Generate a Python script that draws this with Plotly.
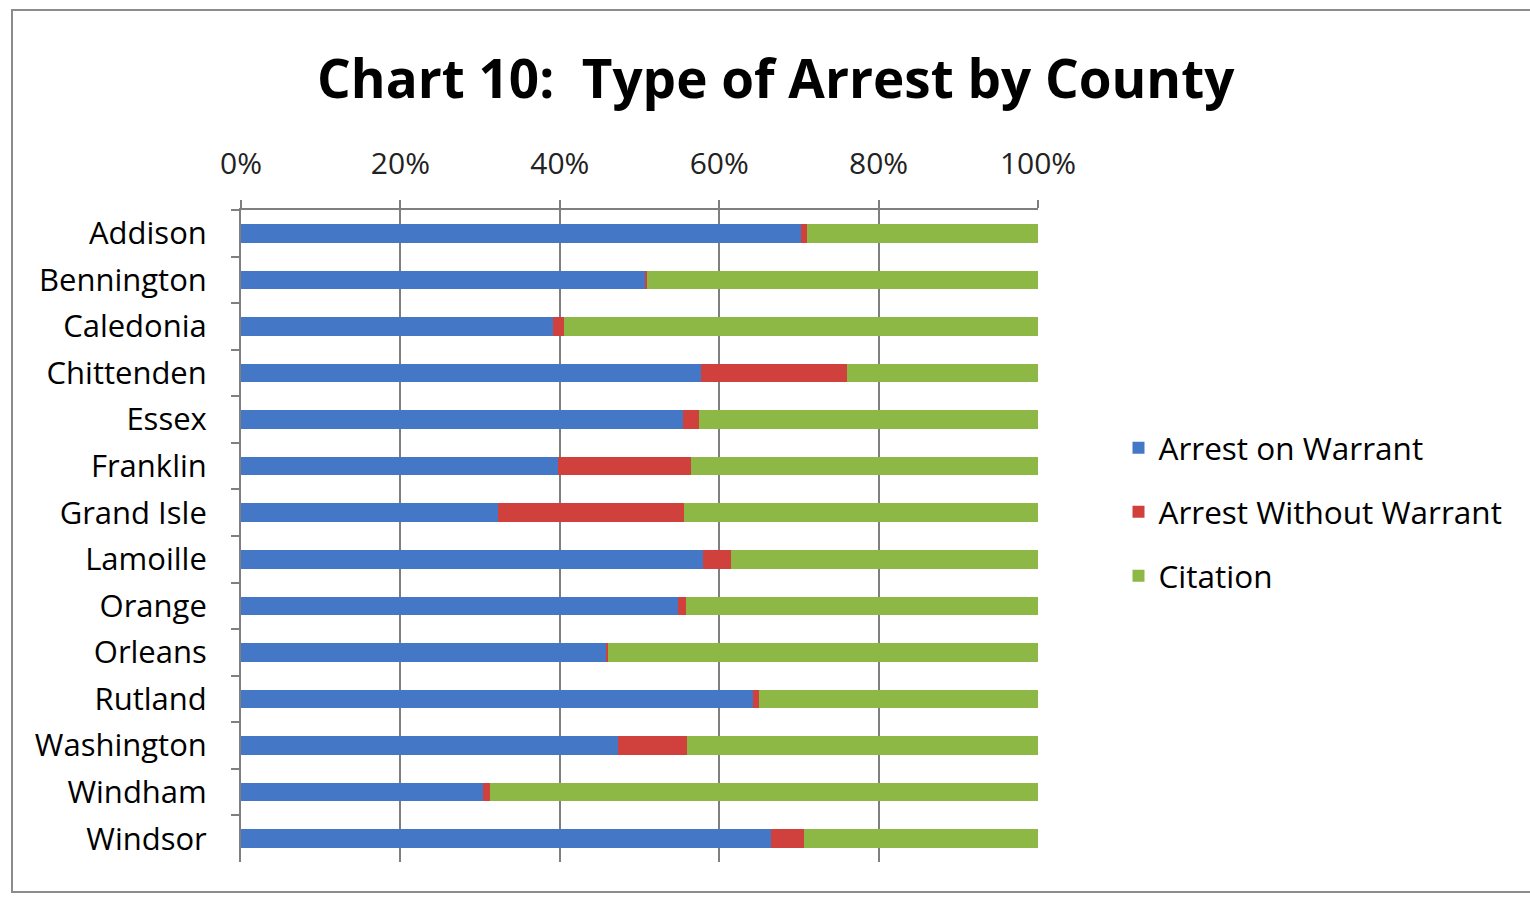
import plotly.graph_objects as go

counties = ["Addison", "Bennington", "Caledonia", "Chittenden", "Essex", "Franklin",
            "Grand Isle", "Lamoille", "Orange", "Orleans", "Rutland", "Washington",
            "Windham", "Windsor"]
arrest_on_warrant = [70.3, 50.7, 39.1, 57.7, 55.4, 39.8, 32.2, 58.0, 54.8, 45.8, 64.2, 47.3, 30.4, 66.5]
arrest_without_warrant = [0.7, 0.3, 1.4, 18.3, 2.1, 16.7, 23.4, 3.5, 1.0, 0.2, 0.8, 8.7, 0.8, 4.2]
citation = [29.0, 49.0, 59.5, 24.0, 42.5, 43.5, 44.4, 38.5, 44.2, 54.0, 35.0, 44.0, 68.8, 29.3]
tick_vals = [0, 20, 40, 60, 80, 100]
tick_text = ["0%", "20%", "40%", "60%", "80%", "100%"]

FONT = "Open Sans"
fig = go.Figure()
series = [("Arrest on Warrant", arrest_on_warrant, "#4478C6"),
          ("Arrest Without Warrant", arrest_without_warrant, "#D0413D"),
          ("Citation", citation, "#8DB845")]
for i, (name, vals, col) in enumerate(series):
    fig.add_trace(go.Bar(y=counties, x=vals, name=name, orientation="h",
                         marker=dict(color=col, line=dict(width=0)),
                         legendgroup=f"g{i}"))

fig.update_layout(
    width=1530, height=901,
    barmode="stack", bargap=0.6,
    plot_bgcolor="white", paper_bgcolor="white",
    margin=dict(l=241, r=492, t=210, b=39),
    title=dict(text="<b>Chart 10:  Type of Arrest by County</b>", x=0.507, xanchor="center",
               y=0.912, yanchor="middle", font=dict(family=FONT, size=53, color="black")),
    font=dict(family=FONT, color="black"),
    legend=dict(x=1.101, xanchor="left", y=0.537, yanchor="middle", traceorder="grouped",
                tracegroupgap=20, font=dict(size=31.5, family=FONT, color="black"),
                bgcolor="rgba(0,0,0,0)"),
    showlegend=True,
)
fig.update_xaxes(side="top", range=[0, 100], tickvals=tick_vals, ticktext=tick_text,
                 showgrid=True, gridcolor="#7F7F7F", gridwidth=2,
                 showline=True, linecolor="#7F7F7F", linewidth=2,
                 ticks="outside", ticklen=8, tickcolor="#7F7F7F", tickwidth=2,
                 ticklabelstandoff=14,
                 tickfont=dict(size=30, family=FONT, color="#222222"), zeroline=False,
                 fixedrange=True)
fig.update_yaxes(autorange="reversed", showline=True, linecolor="#7F7F7F", linewidth=2,
                 ticks="outside", ticklen=8, tickcolor="#7F7F7F", tickwidth=2,
                 tickson="boundaries", tickfont=dict(size=31, family=FONT, color="black"),
                 showgrid=False, ticklabelstandoff=26)
# chart frame
fig.add_shape(type="rect", xref="paper", yref="paper",
              x0=-229/797, x1=(1530-241+10)/797, y0=-30/652, y1=(652+200)/652,
              line=dict(color="#8C8C8C", width=2), layer="below")
fig.write_html("out.html")
